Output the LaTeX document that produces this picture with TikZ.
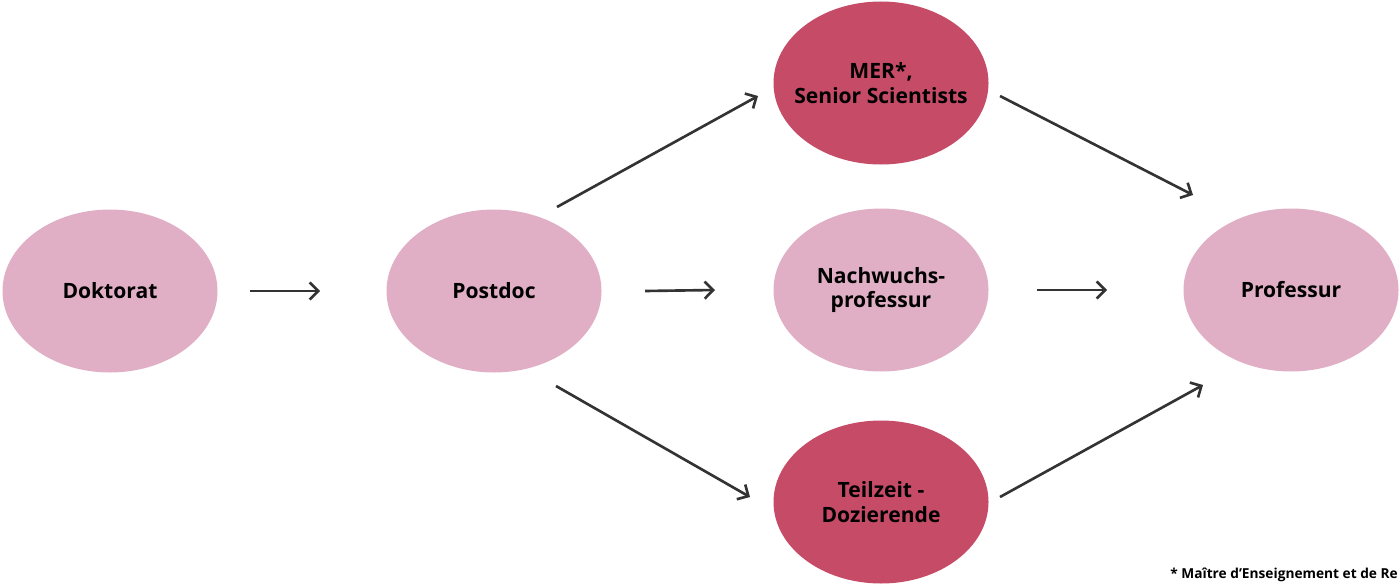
\documentclass[tikz,border=0pt]{standalone}
\usepackage{fontspec}
\setmainfont{Open Sans}
\usetikzlibrary{shapes.geometric,arrows.meta}
\definecolor{lightrose}{HTML}{E0AFC5}
\definecolor{darkrose}{HTML}{C64B67}
\definecolor{arrowgray}{HTML}{333333}
\begin{document}
\begin{tikzpicture}[
    stage/.style={ellipse, fill=lightrose, draw=none, minimum width=4.30cm,
      minimum height=3.26cm, align=center, inner sep=0pt, inner xsep=-1cm,
      font=\bfseries\fontsize{12}{14.2}\selectfont},
    keystage/.style={stage, fill=darkrose},
    arr/.style={line width=1.5pt, draw=arrowgray,
      -{Straight Barb[length=1.7mm,width=3.4mm,line width=1.5pt]}}
  ]
  \useasboundingbox (0,0) rectangle (27.98,11.68);

  % Marking stages
  \node [stage] (dok) at (2.20,5.86) {Doktorat};
  \node [stage] (post) at (9.88,5.86) {Postdoc};
  \node [keystage] (mer) at (17.62,10.02) {MER*,\\Senior Scientists};
  \node [stage] (nach) at (17.62,5.88) {Nachwuchs-\\professur};
  \node [keystage] (teil) at (17.62,1.64) {Teilzeit -\\Dozierende};
  \node [stage] (prof) at (25.82,5.88) {Professur};

  % Drawing straight arrows
  \draw [arr] ([xshift=2.80cm]dok.center) -- ([xshift=-3.48cm]post.center);
  \draw [arr] ([xshift=3.02cm]post.center) -- ([xshift=-3.32cm]nach.center);
  \draw [arr] ([xshift=3.12cm]nach.center) -- ([xshift=-3.68cm]prof.center);

  % Drawing diagonal arrows
  \draw [arr] ([xshift=1.26cm,yshift=1.68cm]post.center) -- ([xshift=-2.46cm,yshift=-0.26cm]mer.center);
  \draw [arr] ([xshift=1.24cm,yshift=-1.90cm]post.center) -- ([xshift=-2.62cm,yshift=0.10cm]teil.center);
  \draw [arr] ([xshift=2.38cm,yshift=-0.26cm]mer.center) -- ([xshift=-1.96cm,yshift=1.90cm]prof.center);
  \draw [arr] ([xshift=2.38cm,yshift=0.10cm]teil.center) -- ([xshift=-1.76cm,yshift=-1.90cm]prof.center);

  % Marking footnote
  \node [anchor=base west, inner sep=0pt, font=\fontsize{7.8}{9}\selectfont\bfseries] (note)
    at (23.40,0.12) {* Maître d’Enseignement et de Re};
\end{tikzpicture}
\end{document}
